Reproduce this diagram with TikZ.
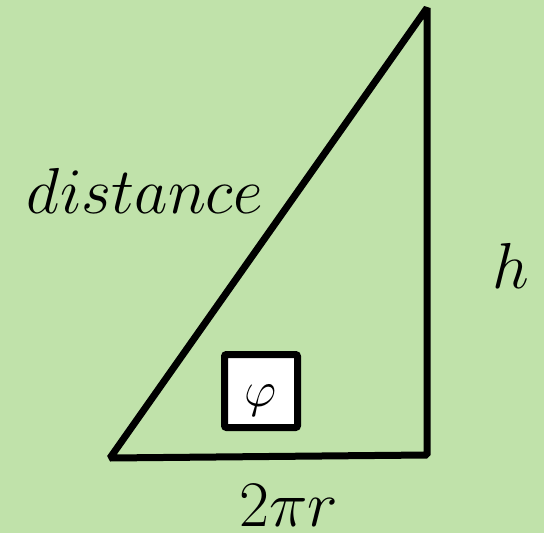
\documentclass[tikz,border=0pt]{standalone}
\usepackage{fix-cm}
\usepackage{amsmath,amssymb}
\usepackage{xcolor}
\usepackage{tikz}
\definecolor{LeafGreen}{HTML}{C0E2AA}

\begin{document}
\begin{tikzpicture}[x=1pt,y=-1pt,side/.style={draw=black,line width=7pt,line join=bevel},lbl/.style={anchor=base,inner sep=0pt,font=\fontsize{65}{78}\selectfont},anglebox/.style={draw=black,fill=white,line width=7pt,rounded corners=2pt,minimum size=73pt,inner sep=0pt}]
\fill[LeafGreen] (0,0) rectangle (544,533);
\useasboundingbox (0,0) rectangle (544,533);
\coordinate (A) at (110,458);
\coordinate (B) at (427,8);
\coordinate (C) at (427,455);
\draw[side] (A)--(B)--(C)--cycle;
\node[anglebox] (ang) at (261,391) {};
\node[font=\fontsize{50}{60}\selectfont,inner sep=0pt] (phi) at (261,401) {$\varphi$};
\node[lbl] (dist) at (145,213) {$distance$};
\node[lbl] (hgt) at (511,288) {$h$};
\node[lbl] (circ) at (289,526) {$2\pi r$};
\end{tikzpicture}
\end{document}
